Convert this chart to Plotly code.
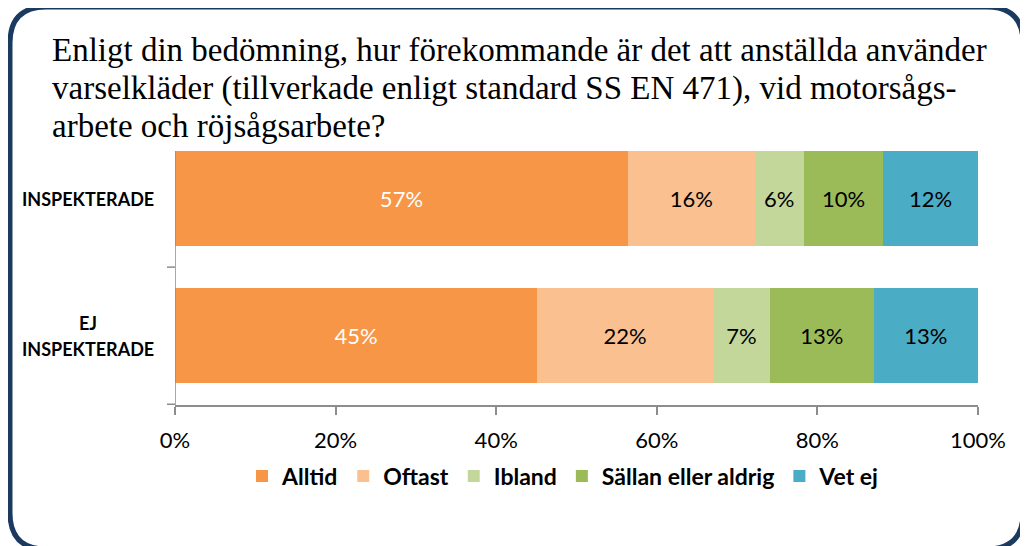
import plotly.graph_objects as go

categories = ["INSPEKTERADE", "EJ INSPEKTERADE"]
series_names = ["Alltid", "Oftast", "Ibland", "Sällan eller aldrig", "Vet ej"]
alltid = [56.4, 45.1]
oftast = [15.8, 21.9]
ibland = [6.1, 7.1]
sallan = [9.9, 12.9]
vet_ej = [11.8, 13.0]
label_alltid = ["57%", "45%"]
label_oftast = ["16%", "22%"]
label_ibland = ["6%", "7%"]
label_sallan = ["10%", "13%"]
label_vet_ej = ["12%", "13%"]
x_ticks = [0, 20, 40, 60, 80, 100]
x_tick_labels = ["0%", "20%", "40%", "60%", "80%", "100%"]
title_lines = [
    "Enligt din bedömning, hur förekommande är det att anställda använder",
    "varselkläder (tillverkade enligt standard SS EN 471), vid motorsågs-",
    "arbete och röjsågsarbete?",
]

colors = ["#F79646", "#FAC090", "#C4D79B", "#9BBB59", "#4BACC6"]
text_colors = ["white", "black", "black", "black", "black"]
values = [alltid, oftast, ibland, sallan, vet_ej]
labels = [label_alltid, label_oftast, label_ibland, label_sallan, label_vet_ej]

# page places the figure at an 8px body margin; work in screen pixels
OFF = 8
W, H = 1028 - OFF, 546 - OFF
L, R, T, B = 175 - OFF, 50, 130 - OFF, 141
PW, PH = W - L - R, H - T - B


def px(x):
    return (x - OFF - L) / PW


def py(y):
    return (H - B - (y - OFF)) / PH


fig = go.Figure()
for name, vals, labs, col, tcol in zip(series_names, values, labels, colors, text_colors):
    fig.add_trace(go.Bar(
        y=categories, x=vals, name=name, orientation="h",
        marker=dict(color=col, line=dict(width=0)),
        text=labs, textposition="inside", insidetextanchor="middle",
        textangle=0,
        textfont=dict(family="Lato", size=22, color=tcol),
        hoverinfo="skip",
    ))

axis_col = "#8C8C8C"
fig.update_layout(
    width=W, height=H,
    margin=dict(l=L, r=R, t=T, b=B),
    barmode="stack", bargap=0.31,
    plot_bgcolor="white", paper_bgcolor="white",
    showlegend=True,
    legend=dict(orientation="h", x=px(563), xanchor="center", y=py(476), yanchor="middle",
                font=dict(family="Lato", size=23, color="black", weight="bold"),
                traceorder="normal", itemwidth=30),
    xaxis=dict(range=[0, 100], tickvals=x_ticks, ticktext=x_tick_labels,
               showgrid=False, zeroline=False,
               showline=True, linecolor=axis_col, linewidth=1.5,
               ticks="outside", ticklen=8, tickwidth=1.5, tickcolor=axis_col,
               ticklabelstandoff=7,
               tickfont=dict(family="Lato", size=22, color="black")),
    yaxis=dict(categoryorder="array", categoryarray=categories, autorange="reversed",
               showticklabels=False, showgrid=False, zeroline=False, showline=False, ticks=""),
)

shapes = [
    dict(type="line", xref="x", yref="paper", x0=0, x1=0, y0=py(151), y1=py(414),
         line=dict(color=axis_col, width=1.5)),
    dict(type="line", xref="paper", yref="y", x0=px(167), x1=0, y0=0.5, y1=0.5,
         line=dict(color=axis_col, width=1.5)),
    dict(type="line", xref="paper", yref="y", x0=px(167), x1=0, y0=1.5, y1=1.5,
         line=dict(color=axis_col, width=1.5)),
]

x0, y0, x1, y1, r = 10, 7, 1023, 549, 36
path = (f"M {px(x0 + r)},{py(y0)} L {px(x1 - r)},{py(y0)} "
        f"Q {px(x1)},{py(y0)} {px(x1)},{py(y0 + r)} L {px(x1)},{py(y1 - r)} "
        f"Q {px(x1)},{py(y1)} {px(x1 - r)},{py(y1)} L {px(x0 + r)},{py(y1)} "
        f"Q {px(x0)},{py(y1)} {px(x0)},{py(y1 - r)} L {px(x0)},{py(y0 + r)} "
        f"Q {px(x0)},{py(y0)} {px(x0 + r)},{py(y0)} Z")
shapes.append(dict(type="path", xref="paper", yref="paper", path=path,
                   line=dict(color="#1B3A60", width=5), fillcolor="rgba(0,0,0,0)"))
fig.update_layout(shapes=shapes)

annotations = []
for cat in categories:
    words = cat.split(" ")
    n = len(words)
    for i, line in enumerate(words):
        shift = (n - 1) * 13 - i * 26
        annotations.append(dict(text=line, xref="paper", yref="y", x=px(88), y=cat,
                                xanchor="center", yanchor="middle", yshift=shift, showarrow=False,
                                font=dict(family="Lato", size=18, color="black", weight="bold")))

title_size = 33
for i, line in enumerate(title_lines):
    top = 59 + 38 * i - 0.87 * title_size
    annotations.append(dict(text=line, xref="paper", yref="paper",
                            x=px(50), y=py(top), xanchor="left", yanchor="top", align="left",
                            showarrow=False,
                            font=dict(family="Liberation Serif", size=title_size, color="black")))
fig.update_layout(annotations=annotations)

fig.write_html("out.html")
